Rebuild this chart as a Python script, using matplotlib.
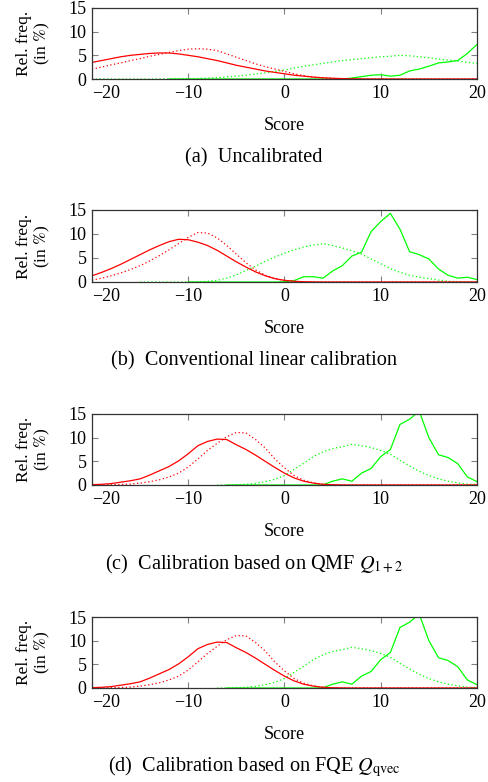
"""
Score distributions (relative frequency) for the two classes before and
after calibration, four stacked panels with sub-captions.
"""
import numpy as np
import matplotlib
matplotlib.use("Agg")
import matplotlib.pyplot as plt

NAN = np.nan
SCORE = np.arange(-20, 21)  # score grid, -20 ... 20

# (a) uncalibrated
RED_SOLID_A = [3.5, 3.9, 4.3, 4.7, 5.0, 5.2, 5.4, 5.5, 5.5, 5.3, 5.0, 4.7, 4.3, 3.9,
               3.4, 2.9, 2.5, 2.1, 1.7, 1.4, 1.1, 0.8, 0.6, 0.4, 0.25, 0.15, 0.08,
               0.04, 0.02, 0, 0, 0, 0, 0, 0, 0, 0, 0, 0, 0, 0]
RED_DOTTED_A = [2.1, 2.5, 3.0, 3.4, 3.9, 4.3, 4.8, 5.2, 5.6, 6.0, 6.3, 6.4, 6.3, 6.0,
                5.3, 4.6, 3.9, 3.2, 2.6, 2.1, 1.6, 1.1, 0.7, 0.4, 0.25, 0.15, 0.08,
                0.04, 0, 0, 0, 0, 0, 0, 0, 0, 0, 0, 0, 0, 0]
GREEN_DOTTED_A = [0, 0, 0, 0, 0, 0, 0, 0, 0.02, 0.05, 0.08, 0.12, 0.2, 0.3, 0.45,
                  0.6, 0.8, 1.05, 1.3, 1.6, 1.9, 2.3, 2.7, 3.0, 3.3, 3.6, 3.9, 4.1,
                  4.3, 4.5, 4.7, 4.8, 5.0, 4.9, 4.7, 4.5, 4.2, 4.0, 3.8, 3.5, 3.3]
GREEN_SOLID_A = [NAN, NAN, NAN, NAN, NAN, NAN, NAN, NAN, 0, 0, 0, 0, 0, 0, 0, 0, 0,
                 0, 0, 0, 0, 0, 0, 0, 0, 0, 0, 0.2, 0.5, 0.8, 0.9, 0.6, 0.8, 1.7,
                 2.1, 2.7, 3.4, 3.6, 3.9, 5.4, 7.3]

# (b) conventional linear calibration
RED_SOLID_B = [1.3, 2.0, 2.8, 3.7, 4.7, 5.7, 6.7, 7.6, 8.4, 8.9, 8.8, 8.3, 7.6, 6.6,
               5.4, 4.2, 3.1, 2.1, 1.3, 0.7, 0.35, 0.15, 0.06, 0.02, 0, 0, 0, 0, 0,
               0, 0, 0, 0, 0, 0, 0, 0, 0, 0, 0, 0]
RED_DOTTED_B = [0.4, 0.8, 1.3, 1.9, 2.6, 3.4, 4.4, 5.5, 6.7, 8.0, 9.3, 10.3, 10.2,
                9.2, 7.6, 5.8, 4.0, 2.5, 1.4, 0.7, 0.3, 0.12, 0.04, 0, 0, 0, 0, 0,
                0, 0, 0, 0, 0, 0, 0, 0, 0, 0, 0, 0, 0]
GREEN_DOTTED_B = [NAN, NAN, NAN, NAN, NAN, 0, 0, 0, 0, 0, 0.02, 0.05, 0.12, 0.35,
                  0.8, 1.5, 2.4, 3.3, 4.3, 5.2, 6.0, 6.7, 7.3, 7.7, 8.0, 7.6, 7.1,
                  6.5, 5.8, 4.8, 3.8, 2.8, 2.0, 1.4, 1.0, 0.7, 0.4, 0.15, 0.05,
                  0.02, 0]
GREEN_SOLID_B = [NAN, NAN, NAN, NAN, NAN, NAN, NAN, NAN, NAN, NAN, 0, 0, 0, 0, 0,
                 0, 0, 0, 0, 0, 0.05, 0.3, 1.1, 1.1, 0.8, 2.3, 3.4, 5.4, 6.2, 10.5,
                 12.6, 14.3, 11.0, 6.3, 5.7, 4.8, 2.7, 1.4, 0.8, 1.0, 0.5]

# (c) calibration based on QMF Q_{1+2}
RED_SOLID_C = [0.07, 0.15, 0.3, 0.6, 0.9, 1.3, 2.1, 3.0, 3.9, 5.1, 6.6, 8.3, 9.2,
               9.7, 9.6, 8.5, 7.5, 6.3, 5.0, 3.7, 2.5, 1.5, 0.8, 0.4, 0.15, 0.05,
               0.02, 0, 0, 0, 0, 0, 0, 0, 0, 0, 0, 0, 0, 0, 0]
RED_DOTTED_C = [0, 0.02, 0.05, 0.1, 0.2, 0.4, 0.7, 1.1, 1.7, 2.5, 3.8, 5.5, 7.3,
                8.8, 10.2, 11.1, 11.0, 9.6, 7.8, 5.5, 3.6, 2.0, 1.0, 0.45, 0.15,
                0.05, 0, 0, 0, 0, 0, 0, 0, 0, 0, 0, 0, 0, 0, 0, 0]
GREEN_DOTTED_C = [NAN, NAN, NAN, NAN, NAN, NAN, NAN, NAN, NAN, NAN, NAN, NAN, NAN,
                  0, 0.02, 0.05, 0.15, 0.35, 0.7, 1.2, 2.0, 3.3, 4.6, 6.0, 7.0, 7.7,
                  8.1, 8.6, 8.3, 7.9, 7.3, 6.5, 5.2, 4.0, 2.9, 2.0, 1.3, 0.8, 0.45,
                  0.2, 0.1]
GREEN_SOLID_C = [NAN, NAN, NAN, NAN, NAN, NAN, NAN, NAN, NAN, NAN, NAN, NAN, NAN,
                 NAN, 0, 0, 0, 0, 0, 0, 0, 0, 0, 0, 0.05, 0.8, 1.3, 0.8, 2.5, 3.5,
                 6.0, 7.5, 12.8, 13.9, 15.6, 10.0, 6.4, 5.8, 4.5, 1.7, 0.7]

# (d) calibration based on FQE Q_qvec
RED_SOLID_D = [0.07, 0.15, 0.3, 0.6, 0.9, 1.3, 2.1, 3.0, 3.9, 5.1, 6.6, 8.3, 9.2,
               9.7, 9.6, 8.5, 7.5, 6.3, 5.0, 3.7, 2.5, 1.5, 0.8, 0.4, 0.15, 0.05,
               0.02, 0, 0, 0, 0, 0, 0, 0, 0, 0, 0, 0, 0, 0, 0]
RED_DOTTED_D = [0, 0.02, 0.05, 0.1, 0.2, 0.4, 0.7, 1.1, 1.7, 2.5, 3.8, 5.5, 7.3,
                8.8, 10.2, 11.1, 11.0, 9.6, 7.8, 5.5, 3.6, 2.0, 1.0, 0.45, 0.15,
                0.05, 0, 0, 0, 0, 0, 0, 0, 0, 0, 0, 0, 0, 0, 0, 0]
GREEN_DOTTED_D = [NAN, NAN, NAN, NAN, NAN, NAN, NAN, NAN, NAN, NAN, NAN, NAN, NAN,
                  0, 0.02, 0.05, 0.15, 0.35, 0.7, 1.2, 2.0, 3.3, 4.6, 6.0, 7.0, 7.7,
                  8.1, 8.6, 8.3, 7.9, 7.3, 6.5, 5.2, 4.0, 2.9, 2.0, 1.3, 0.8, 0.45,
                  0.2, 0.1]
GREEN_SOLID_D = [NAN, NAN, NAN, NAN, NAN, NAN, NAN, NAN, NAN, NAN, NAN, NAN, NAN,
                 NAN, 0, 0, 0, 0, 0, 0, 0, 0, 0, 0, 0.05, 0.8, 1.3, 0.8, 2.5, 3.5,
                 6.0, 7.5, 12.8, 13.9, 15.6, 10.0, 6.4, 5.8, 4.5, 1.7, 0.7]

CAPTIONS = [
    "(a)  Uncalibrated",
    "(b)  Conventional linear calibration",
    r"(c)  Calibration based on QMF $Q_{1+2}$",
    r"(d)  Calibration based on FQE $Q_{\mathrm{qvec}}$",
]
XTICKS = [-20, -10, 0, 10, 20]
YTICKS = [0, 5, 10, 15]

PANELS = [
    (GREEN_DOTTED_A, GREEN_SOLID_A, RED_DOTTED_A, RED_SOLID_A),
    (GREEN_DOTTED_B, GREEN_SOLID_B, RED_DOTTED_B, RED_SOLID_B),
    (GREEN_DOTTED_C, GREEN_SOLID_C, RED_DOTTED_C, RED_SOLID_C),
    (GREEN_DOTTED_D, GREEN_SOLID_D, RED_DOTTED_D, RED_SOLID_D),
]

# axes boxes in figure pixels: (top, bottom)
W, H = 489, 782
LEFT, RIGHT = 92, 477
BOXES = [(8, 79), (210, 282), (414, 485), (617, 688)]
CAPTION_X = 254

plt.rcParams.update({
    "font.family": "Liberation Serif",
    "mathtext.fontset": "stix",
    "font.size": 12,
})

fig = plt.figure(figsize=(W / 100, H / 100), dpi=100)

for (g_dot, g_sol, r_dot, r_sol), caption, (top, bot) in zip(PANELS, CAPTIONS, BOXES):
    ax = fig.add_axes([LEFT / W, 1 - bot / H, (RIGHT - LEFT) / W, (bot - top) / H])
    ax.plot(SCORE, g_dot, color="#00ff00", lw=0.9, ls=(0, (1, 2)))
    ax.plot(SCORE, g_sol, color="#00ff00", lw=0.9)
    ax.plot(SCORE, r_dot, color="#ff0000", lw=0.9, ls=(0, (1, 2)))
    ax.plot(SCORE, r_sol, color="#ff0000", lw=0.9)

    ax.set_xlim(-20, 20)
    ax.set_ylim(0, 15)
    ax.set_xticks(XTICKS)
    ax.set_yticks(YTICKS)
    ax.tick_params(direction="in", top=True, right=True, length=4.5, width=0.8,
                   color="0.5", labelsize=13, pad=4)
    # leftmost score label sits just right of the axis line
    ax.xaxis.get_major_ticks()[0].label1.set_horizontalalignment("left")
    for spine in ax.spines.values():
        spine.set_color("0.2")
        spine.set_linewidth(0.9)

    ax.set_ylabel("Rel. freq.\n(in $\\%$)", fontsize=12.5, linespacing=1.0)
    ax.yaxis.set_label_coords(-0.105, 0.5)
    ax.text(0.5, -0.65, "Score", transform=ax.transAxes, ha="center", va="center",
            fontsize=13)
    fig.text(CAPTION_X / W, 1 - (bot + 79) / H, caption, ha="center", va="center",
             fontsize=14.6)

fig.savefig("out.png", dpi=100)
